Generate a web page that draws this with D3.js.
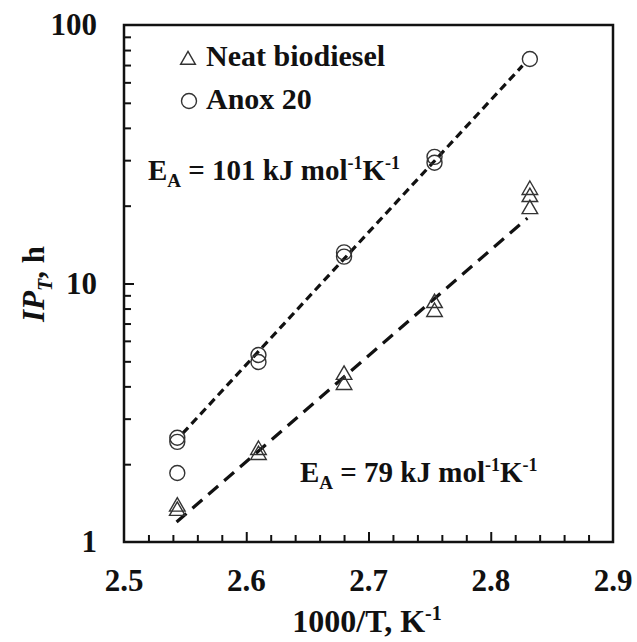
<!DOCTYPE html>
<html>
<head>
<meta charset="utf-8">
<script src="https://cdn.jsdelivr.net/npm/d3@7"></script>
<style>
  html, body { margin: 0; padding: 0; background: #fff; }
  svg text { font-family: "Liberation Serif", "Times New Roman", serif; font-weight: bold; fill: #111; }
</style>
</head>
<body>
<svg id="chart" width="637" height="642"></svg>
<script>
// 1000/T (K^-1) and induction period IP_T (h)
const neatX = [2.5436, 2.5436, 2.610, 2.610, 2.680, 2.680, 2.754, 2.754, 2.832, 2.832, 2.832];
const neatY = [1.37, 1.32, 2.27, 2.17, 4.43, 4.05, 8.4, 7.76, 23.0, 21.6, 19.4];
const anoxX = [2.5436, 2.5436, 2.5436, 2.610, 2.610, 2.680, 2.680, 2.754, 2.754, 2.832];
const anoxY = [2.53, 2.44, 1.85, 5.29, 4.97, 13.2, 12.7, 30.9, 29.3, 73.9];

// fitted Arrhenius lines (end points)
const anoxFitX = [2.548, 2.826];
const anoxFitY = [2.63, 69.6];
const neatFitX = [2.543, 2.830];
const neatFitY = [1.195, 17.9];

const xTicks = [2.5, 2.6, 2.7, 2.8, 2.9];
const yTicks = [1, 10, 100];

const svg = d3.select("#chart");
const mLeft = 124, mRight = 613, mTop = 25, mBottom = 542;

const x = d3.scaleLinear().domain([2.5, 2.9]).range([mLeft, mRight]);
const y = d3.scaleLog().domain([1, 100]).range([mBottom, mTop]);

// minor ticks, inward
const xMinor = d3.range(2.52, 2.9, 0.02).filter(v => Math.abs(Math.round(v * 10) - v * 10) > 1e-6);
svg.append("g").attr("transform", `translate(0,${mBottom})`)
    .call(d3.axisBottom(x).tickValues(xMinor).tickSizeInner(-7).tickSizeOuter(0).tickFormat(""))
    .call(g => g.select(".domain").remove())
    .selectAll("line").attr("stroke", "#111").attr("stroke-width", 2);

svg.append("g").attr("transform", `translate(0,${mBottom})`)
    .call(d3.axisBottom(x).tickValues(xTicks.slice(1, -1)).tickSizeInner(-10).tickSizeOuter(0).tickFormat(""))
    .call(g => g.select(".domain").remove())
    .selectAll("line").attr("stroke", "#111").attr("stroke-width", 2);

const yMinor = [];
[1, 10].forEach(d => { for (let k = 2; k <= 9; k++) yMinor.push(d * k); });
svg.append("g").attr("transform", `translate(${mLeft},0)`)
    .call(d3.axisLeft(y).tickValues(yMinor).tickSizeInner(-7).tickSizeOuter(0).tickFormat(""))
    .call(g => g.select(".domain").remove())
    .selectAll("line").attr("stroke", "#111").attr("stroke-width", 2);
svg.append("g").attr("transform", `translate(${mLeft},0)`)
    .call(d3.axisLeft(y).tickValues([10]).tickSizeInner(-10).tickSizeOuter(0).tickFormat(""))
    .call(g => g.select(".domain").remove())
    .selectAll("line").attr("stroke", "#111").attr("stroke-width", 2);

// frame
svg.append("rect")
    .attr("x", mLeft).attr("y", mTop)
    .attr("width", mRight - mLeft).attr("height", mBottom - mTop)
    .attr("fill", "none").attr("stroke", "#111").attr("stroke-width", 2.5);

// tick labels
svg.append("g").selectAll("text").data(xTicks).enter().append("text")
    .attr("x", d => x(d)).attr("y", 591)
    .attr("text-anchor", "middle").attr("font-size", 31)
    .text(d => d.toFixed(1));

svg.append("g").selectAll("text").data(yTicks).enter().append("text")
    .attr("x", 97).attr("y", d => y(d) + 10)
    .attr("text-anchor", "end").attr("font-size", 31)
    .text(d => d);

// axis titles
const xt = svg.append("text").attr("x", 367).attr("y", 632)
    .attr("text-anchor", "middle").attr("font-size", 32);
xt.append("tspan").text("1000/T, K");
xt.append("tspan").attr("font-size", 20).attr("dy", -12).text("-1");

const yt = svg.append("text")
    .attr("transform", "translate(44,284) rotate(-90)")
    .attr("text-anchor", "middle").attr("font-size", 31);
yt.append("tspan").attr("font-style", "italic").text("IP");
yt.append("tspan").attr("font-style", "italic").attr("font-size", 20).attr("dy", 8).text("T");
yt.append("tspan").attr("dy", -8).text(", h");

// fit lines
const line = d3.line().x(d => x(d[0])).y(d => y(d[1]));
svg.append("path")
    .datum(anoxFitX.map((v, i) => [v, anoxFitY[i]]))
    .attr("d", line).attr("fill", "none")
    .attr("stroke", "#111").attr("stroke-width", 3.2)
    .attr("stroke-dasharray", "8,5");
svg.append("path")
    .datum(neatFitX.map((v, i) => [v, neatFitY[i]]))
    .attr("d", line).attr("fill", "none")
    .attr("stroke", "#111").attr("stroke-width", 3.2)
    .attr("stroke-dasharray", "13,8");

// markers
const tri = d3.symbol().type(d3.symbolTriangle).size(105);
svg.append("g").selectAll("path")
    .data(neatX.map((v, i) => [v, neatY[i]]))
    .enter().append("path")
    .attr("d", tri)
    .attr("transform", d => `translate(${x(d[0])},${y(d[1])})`)
    .attr("fill", "none").attr("stroke", "#333").attr("stroke-width", 1.4);

svg.append("g").selectAll("circle")
    .data(anoxX.map((v, i) => [v, anoxY[i]]))
    .enter().append("circle")
    .attr("cx", d => x(d[0])).attr("cy", d => y(d[1])).attr("r", 7.5)
    .attr("fill", "none").attr("stroke", "#333").attr("stroke-width", 1.4);

// legend
svg.append("path").attr("d", d3.symbol().type(d3.symbolTriangle).size(95))
    .attr("transform", "translate(188,60)")
    .attr("fill", "none").attr("stroke", "#333").attr("stroke-width", 1.4);
svg.append("text").attr("x", 206).attr("y", 66).attr("font-size", 30).text("Neat biodiesel");
svg.append("circle").attr("cx", 189).attr("cy", 101).attr("r", 7.5)
    .attr("fill", "none").attr("stroke", "#333").attr("stroke-width", 1.4);
svg.append("text").attr("x", 206).attr("y", 109).attr("font-size", 30).text("Anox 20");

// activation energy labels
function eaLabel(px, py, val) {
    const t = svg.append("text").attr("x", px).attr("y", py).attr("font-size", 29);
    t.append("tspan").text("E");
    t.append("tspan").attr("font-size", 19).attr("dy", 7).text("A");
    t.append("tspan").attr("dy", -7).text(` = ${val} kJ mol`);
    t.append("tspan").attr("font-size", 18).attr("dy", -11).text("-1");
    t.append("tspan").attr("dy", 11).text("K");
    t.append("tspan").attr("font-size", 18).attr("dy", -11).text("-1");
}
eaLabel(148, 180, 101);
eaLabel(300, 482, 79);
</script>
</body>
</html>
